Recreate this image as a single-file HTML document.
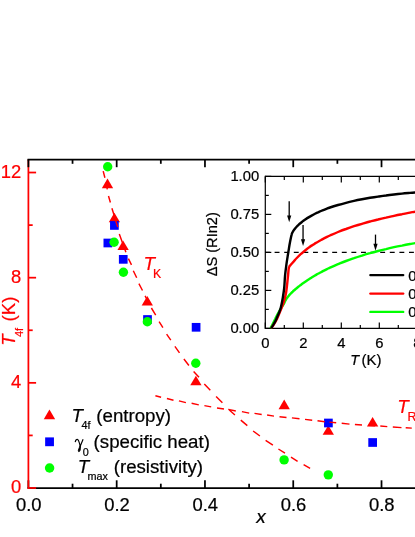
<!DOCTYPE html>
<html><head><meta charset="utf-8"><title>chart</title>
<style>html,body{margin:0;padding:0;background:#fff;overflow:hidden;}svg{display:block;will-change:transform;}text{font-family:"Liberation Sans",sans-serif;stroke:#000;stroke-width:.22px;stroke-linejoin:round;}g[fill="#ff0000"] text,text[fill="#ff0000"]{stroke:#ff0000;}</style>
</head><body>
<svg width="415" height="537" viewBox="0 0 415 537">
<rect width="415" height="537" fill="#fff"/>
<g stroke="#000" stroke-width="1.75" fill="none">
<line x1="27.525" y1="488.0" x2="415" y2="488.0"/>
<line x1="28.40" y1="488.0" x2="28.40" y2="480.3"/>
<line x1="72.54" y1="488.0" x2="72.54" y2="483.7"/>
<line x1="116.68" y1="488.0" x2="116.68" y2="480.3"/>
<line x1="160.82" y1="488.0" x2="160.82" y2="483.7"/>
<line x1="204.96" y1="488.0" x2="204.96" y2="480.3"/>
<line x1="249.10" y1="488.0" x2="249.10" y2="483.7"/>
<line x1="293.24" y1="488.0" x2="293.24" y2="480.3"/>
<line x1="337.38" y1="488.0" x2="337.38" y2="483.7"/>
<line x1="381.52" y1="488.0" x2="381.52" y2="480.3"/>
</g>
<g stroke="#ff0000" stroke-width="1.75" fill="none">
<line x1="28.4" y1="159.5" x2="28.4" y2="488.875"/>
<line x1="28.4" y1="488.00" x2="36.1" y2="488.00"/>
<line x1="28.4" y1="435.42" x2="32.699999999999996" y2="435.42"/>
<line x1="28.4" y1="382.84" x2="36.1" y2="382.84"/>
<line x1="28.4" y1="330.26" x2="32.699999999999996" y2="330.26"/>
<line x1="28.4" y1="277.68" x2="36.1" y2="277.68"/>
<line x1="28.4" y1="225.10" x2="32.699999999999996" y2="225.10"/>
<line x1="28.4" y1="172.52" x2="36.1" y2="172.52"/>
</g>
<g stroke="#000" stroke-width="1.75" fill="none">
<line x1="27.525" y1="159.5" x2="415" y2="159.5"/>
<line x1="28.40" y1="159.5" x2="28.40" y2="167.2"/>
<line x1="72.54" y1="159.5" x2="72.54" y2="163.8"/>
<line x1="116.68" y1="159.5" x2="116.68" y2="167.2"/>
<line x1="160.82" y1="159.5" x2="160.82" y2="163.8"/>
<line x1="204.96" y1="159.5" x2="204.96" y2="167.2"/>
<line x1="249.10" y1="159.5" x2="249.10" y2="163.8"/>
<line x1="293.24" y1="159.5" x2="293.24" y2="167.2"/>
<line x1="337.38" y1="159.5" x2="337.38" y2="163.8"/>
<line x1="381.52" y1="159.5" x2="381.52" y2="167.2"/>
</g>
<g font-size="18.4" fill="#ff0000" text-anchor="end">
<text x="21.2" y="493.20">0</text>
<text x="21.2" y="388.04">4</text>
<text x="21.2" y="282.88">8</text>
<text x="21.2" y="177.72">12</text>
</g>
<g font-size="18.4" fill="#000" text-anchor="middle">
<text x="28.70" y="511.1">0.0</text>
<text x="116.98" y="511.1">0.2</text>
<text x="205.26" y="511.1">0.4</text>
<text x="293.54" y="511.1">0.6</text>
<text x="381.82" y="511.1">0.8</text>
<text x="261" y="523.3" font-style="italic" font-size="19">x</text>
</g>
<g transform="translate(14.9,345.7) rotate(-90)" fill="#ff0000" font-size="18.7"><text x="0" y="0" font-style="italic">T</text><text x="8.8" y="8.4" font-size="10.8">4f</text><text x="24.2" y="0">(K)</text></g>
<polygon points="107.50,178.60 101.85,188.20 113.15,188.20" fill="#ff0000"/>
<polygon points="114.40,212.70 108.75,222.30 120.05,222.30" fill="#ff0000"/>
<polygon points="123.10,240.40 117.45,250.00 128.75,250.00" fill="#ff0000"/>
<polygon points="147.30,295.90 141.65,305.50 152.95,305.50" fill="#ff0000"/>
<polygon points="195.90,375.70 190.25,385.30 201.55,385.30" fill="#ff0000"/>
<polygon points="284.20,399.60 278.55,409.20 289.85,409.20" fill="#ff0000"/>
<polygon points="328.30,425.20 322.65,434.80 333.95,434.80" fill="#ff0000"/>
<polygon points="372.60,417.00 366.95,426.60 378.25,426.60" fill="#ff0000"/>
<rect x="110.05" y="221.10" width="8.7" height="8.7" fill="#0000ff"/>
<rect x="103.50" y="238.65" width="8.7" height="8.7" fill="#0000ff"/>
<rect x="118.90" y="255.00" width="8.7" height="8.7" fill="#0000ff"/>
<rect x="143.15" y="315.15" width="8.7" height="8.7" fill="#0000ff"/>
<rect x="191.75" y="322.95" width="8.7" height="8.7" fill="#0000ff"/>
<rect x="324.05" y="418.65" width="8.7" height="8.7" fill="#0000ff"/>
<rect x="368.30" y="438.15" width="8.7" height="8.7" fill="#0000ff"/>
<circle cx="107.70" cy="166.70" r="4.7" fill="#00ff00"/>
<circle cx="114.10" cy="242.20" r="4.7" fill="#00ff00"/>
<circle cx="123.40" cy="272.30" r="4.7" fill="#00ff00"/>
<circle cx="147.35" cy="321.70" r="4.7" fill="#00ff00"/>
<circle cx="195.80" cy="363.30" r="4.7" fill="#00ff00"/>
<circle cx="284.10" cy="459.90" r="4.7" fill="#00ff00"/>
<circle cx="328.30" cy="474.85" r="4.7" fill="#00ff00"/>
<path d="M103.2,171.1L104.9,177.8 M106.0,182.5L107.3,189.4 M108.5,196L110.4,202.5 M111.9,208.3L114.2,215.5 M115.7,221.0L117.8,227.1 M119.3,233.9L125.9,252.3 M128.4,258.6L131.5,264.9 M133.3,270.7L136.7,277.7 M138.9,283.7L142.5,290.5 M145.1,295.8L148.5,302.5 M151.4,308L155.7,315.1 M159.1,321.6L162.9,327.6 M166.6,334.1L170.8,340.1 M174.9,346.4L179.5,352.8 M183.9,359L188.9,365.5 M193.6,371.4L199.0,377.2 M204.3,384L210.3,390.3 M216.1,396.5L222.4,402.8 M228.5,409.2L234.9,415 M240.8,420.1L247.3,425.6 M253.1,431L259.9,436 M265.6,440.4L272.9,445.1 M278.4,449L285.0,453.1 M291.0,457.1L297.6,461.3 M303.6,464.6L310.1,468.3 M155.4,395.8L161.1,397.3 M166.9,398.5L173.5,400.2 M178.9,400.9L185.9,402.6 M191.6,403.3L198.8,404.9 M204.4,405.6L211.2,406.9 M217,408L224,409 M228.3,409.4L235.8,411 M241.9,411.6L249.2,413.1 M254.5,413.4L261.7,414.5 M267.1,415L274,416.1 M279.5,416.7L286.5,417.5 M291.9,417.9L299.5,418.8 M305,419.4L312.2,420.2 M317.5,420.8L324.8,421.7 M329.5,422.1L336.2,422.8 M341.7,423.3L349.5,424.1 M354.9,424.5L362,425 M368,425.4L375,425.8 M380.3,426L387.3,426.6 M392.8,427L401.5,427.6 M405.7,427.8L411.8,428.1" stroke="#ff0000" stroke-width="1.45" fill="none"/>
<text x="143.4" y="270.4" font-size="18.8" fill="#ff0000" font-style="italic">T</text>
<text x="152.9" y="277.6" font-size="12.4" fill="#ff0000">K</text>
<text x="397.3" y="412.9" font-size="18.8" fill="#ff0000" font-style="italic">T</text>
<text x="407.4" y="420.5" font-size="12.4" fill="#ff0000">RKKY</text>
<polygon points="49.45,409.45 43.75,419.35 55.15,419.35" fill="#ff0000"/>
<rect x="45.15" y="437.40" width="8.8" height="8.8" fill="#0000ff"/>
<circle cx="49.60" cy="468.00" r="4.75" fill="#00ff00"/>
<g font-size="18.7" fill="#000">
<text x="71.6" y="421.5" font-style="italic">T</text>
<text x="81.6" y="429" font-size="10.8">4f</text>
<text x="96.3" y="421.5">(entropy)</text>
<path d="M75.2,442.1 C75.6,440 76.4,439.3 77.3,439.3 C78.7,439.3 79.2,441.5 80.2,446.3 L83.1,439.2" stroke="#000" stroke-width="1.15" fill="none"/>
<path d="M80.2,445.6 C79.2,448 78.2,449.8 78.3,450.9 C78.4,452 79.5,452 80,450.6 C80.5,449.2 80.6,447.3 80.3,445.6 Z" stroke="#000" stroke-width="0.9" fill="#000"/>
<text x="82.8" y="455.7" font-size="10.8">0</text>
<text x="93.6" y="447.5">(specific heat)</text>
<text x="77.8" y="472.6" font-style="italic">T</text>
<text x="87.6" y="480.1" font-size="10.8">max</text>
<text x="113.7" y="472.6">(resistivity)</text>
</g>
<g stroke="#000" stroke-width="1.2" fill="none">
<line x1="265.3" y1="175.79999999999998" x2="265.3" y2="329.0"/>
<line x1="265.3" y1="176.39999999999998" x2="415" y2="176.39999999999998"/>
<line x1="265.3" y1="328.4" x2="415" y2="328.4"/>
<line x1="265.30" y1="176.39999999999998" x2="265.30" y2="182.39999999999998"/>
<line x1="265.30" y1="328.4" x2="265.30" y2="322.4"/>
<line x1="284.30" y1="176.39999999999998" x2="284.30" y2="179.89999999999998"/>
<line x1="284.30" y1="328.4" x2="284.30" y2="324.9"/>
<line x1="303.30" y1="176.39999999999998" x2="303.30" y2="182.39999999999998"/>
<line x1="303.30" y1="328.4" x2="303.30" y2="322.4"/>
<line x1="322.30" y1="176.39999999999998" x2="322.30" y2="179.89999999999998"/>
<line x1="322.30" y1="328.4" x2="322.30" y2="324.9"/>
<line x1="341.30" y1="176.39999999999998" x2="341.30" y2="182.39999999999998"/>
<line x1="341.30" y1="328.4" x2="341.30" y2="322.4"/>
<line x1="360.30" y1="176.39999999999998" x2="360.30" y2="179.89999999999998"/>
<line x1="360.30" y1="328.4" x2="360.30" y2="324.9"/>
<line x1="379.30" y1="176.39999999999998" x2="379.30" y2="182.39999999999998"/>
<line x1="379.30" y1="328.4" x2="379.30" y2="322.4"/>
<line x1="398.30" y1="176.39999999999998" x2="398.30" y2="179.89999999999998"/>
<line x1="398.30" y1="328.4" x2="398.30" y2="324.9"/>
<line x1="417.30" y1="176.39999999999998" x2="417.30" y2="182.39999999999998"/>
<line x1="417.30" y1="328.4" x2="417.30" y2="322.4"/>
<line x1="265.3" y1="328.40" x2="271.3" y2="328.40"/>
<line x1="265.3" y1="309.40" x2="268.8" y2="309.40"/>
<line x1="265.3" y1="290.40" x2="271.3" y2="290.40"/>
<line x1="265.3" y1="271.40" x2="268.8" y2="271.40"/>
<line x1="265.3" y1="252.40" x2="271.3" y2="252.40"/>
<line x1="265.3" y1="233.40" x2="268.8" y2="233.40"/>
<line x1="265.3" y1="214.40" x2="271.3" y2="214.40"/>
<line x1="265.3" y1="195.40" x2="268.8" y2="195.40"/>
<line x1="265.3" y1="176.40" x2="271.3" y2="176.40"/>
<line x1="265.0" y1="252.40" x2="415" y2="252.40" stroke-width="1.2" stroke-dasharray="4.9 4.7"/>
</g>
<g font-size="14.8" fill="#000" text-anchor="end">
<text x="259.2" y="333.40">0.00</text>
<text x="259.2" y="295.40">0.25</text>
<text x="259.2" y="257.40">0.50</text>
<text x="259.2" y="219.40">0.75</text>
<text x="259.2" y="181.40">1.00</text>
</g>
<g font-size="14.8" fill="#000" text-anchor="middle">
<text x="265.30" y="347.6">0</text>
<text x="303.30" y="347.6">2</text>
<text x="341.30" y="347.6">4</text>
<text x="379.30" y="347.6">6</text>
<text x="417.30" y="347.6">8</text>
</g>
<text x="350.3" y="365.1" font-size="14.5" font-style="italic">T</text>
<text x="361.4" y="365.1" font-size="15">(K)</text>
<g transform="translate(217.0,276.3) rotate(-90)" font-size="14.6"><text>&#916;S (RIn2)</text></g>
<path d="M270.4,328.2 C270.8,327.5 271.9,325.6 272.7,324.0 C273.5,322.4 274.2,320.8 275.4,318.5 C276.5,316.2 278.2,312.9 279.6,310.5 C281.0,308.1 282.8,305.8 283.7,304.2 C284.6,302.6 284.7,301.8 285.2,300.9 C285.7,299.9 286.2,299.2 286.7,298.4 C287.2,297.7 287.7,297.1 288.2,296.4 C288.7,295.8 289.2,295.2 289.7,294.7 C290.2,294.1 290.7,293.6 291.2,293.1 C291.7,292.6 292.2,292.1 292.7,291.7 C293.2,291.2 293.7,290.7 294.2,290.3 C294.7,289.8 295.2,289.4 295.7,289.0 C296.2,288.5 296.7,288.1 297.2,287.7 C297.7,287.3 298.2,286.9 298.7,286.5 C299.2,286.2 299.3,286.1 300.0,285.5 C300.7,285.0 302.0,284.0 303.0,283.3 C304.0,282.6 305.0,281.9 306.0,281.2 C307.0,280.5 308.0,279.8 309.0,279.2 C310.0,278.6 311.0,277.9 312.0,277.3 C313.0,276.7 314.0,276.1 315.0,275.5 C316.0,274.9 317.0,274.4 318.0,273.8 C319.0,273.3 320.0,272.7 321.0,272.2 C322.0,271.7 323.0,271.1 324.0,270.6 C325.0,270.1 326.0,269.6 327.0,269.1 C328.0,268.7 328.2,268.5 330.0,267.7 C331.8,266.9 335.3,265.3 338.0,264.2 C340.7,263.1 343.3,262.0 346.0,261.0 C348.7,260.0 351.3,259.1 354.0,258.2 C356.7,257.2 359.3,256.4 362.0,255.6 C364.7,254.7 367.3,253.9 370.0,253.2 C372.7,252.4 375.3,251.7 378.0,251.0 C380.7,250.3 383.3,249.7 386.0,249.1 C388.7,248.4 391.3,247.8 394.0,247.2 C396.7,246.6 399.3,246.1 402.0,245.6 C404.7,245.0 407.8,244.4 410.0,244.0 C412.2,243.6 414.6,243.2 415.5,243.0" stroke="#00ff00" stroke-width="2.4" fill="none" stroke-linejoin="round"/>
<path d="M271.2,328.2 C271.6,327.6 272.8,326.1 273.8,324.5 C274.8,322.9 276.0,321.0 277.2,318.5 C278.4,316.0 279.9,312.2 281.0,309.4 C282.1,306.6 283.0,304.6 283.9,301.7 C284.8,298.8 285.5,296.4 286.2,292.0 C286.9,287.6 287.7,278.8 288.1,275.0 C288.5,271.2 288.4,270.9 288.6,269.5 C288.8,268.1 288.9,267.3 289.3,266.6 C289.7,265.8 290.3,265.4 290.8,264.8 C291.3,264.2 291.8,263.6 292.3,263.0 C292.8,262.4 293.3,261.8 293.8,261.3 C294.3,260.7 294.8,260.1 295.3,259.6 C295.8,259.0 296.3,258.5 296.8,258.0 C297.3,257.5 297.8,257.0 298.3,256.5 C298.8,256.0 299.5,255.3 299.8,255.0 C300.1,254.7 299.5,255.3 300.0,254.8 C300.5,254.4 302.0,253.0 303.0,252.2 C304.0,251.3 305.0,250.5 306.0,249.7 C307.0,248.9 308.0,248.2 309.0,247.4 C310.0,246.7 311.0,246.0 312.0,245.4 C313.0,244.7 314.0,244.1 315.0,243.4 C316.0,242.8 317.0,242.2 318.0,241.7 C319.0,241.1 320.0,240.5 321.0,240.0 C322.0,239.4 323.0,238.9 324.0,238.4 C325.0,237.9 326.0,237.4 327.0,236.9 C328.0,236.4 328.2,236.3 330.0,235.5 C331.8,234.7 335.3,233.1 338.0,232.0 C340.7,230.9 343.3,229.9 346.0,229.0 C348.7,228.0 351.3,227.1 354.0,226.2 C356.7,225.4 359.3,224.6 362.0,223.8 C364.7,223.0 367.3,222.2 370.0,221.5 C372.7,220.8 375.3,220.1 378.0,219.5 C380.7,218.8 383.3,218.2 386.0,217.6 C388.7,216.9 391.3,216.4 394.0,215.8 C396.7,215.2 399.3,214.7 402.0,214.2 C404.7,213.6 407.8,213.1 410.0,212.6 C412.2,212.2 414.6,211.8 415.5,211.6" stroke="#ff0000" stroke-width="2.4" fill="none" stroke-linejoin="round"/>
<path d="M271.2,328.2 C271.6,327.6 272.6,326.1 273.5,324.5 C274.4,322.9 275.3,321.4 276.4,318.9 C277.5,316.4 279.2,312.8 280.3,309.3 C281.4,305.8 282.2,301.2 282.8,297.7 C283.4,294.1 283.8,291.8 284.2,288.0 C284.6,284.2 284.7,279.1 285.1,275.0 C285.5,270.9 286.1,267.0 286.6,263.2 C287.1,259.4 287.8,255.7 288.3,252.3 C288.9,248.9 289.3,245.7 289.9,242.7 C290.5,239.7 291.1,236.2 291.7,234.3 C292.2,232.4 292.7,232.1 293.2,231.2 C293.7,230.3 294.2,229.7 294.7,229.0 C295.2,228.3 295.7,227.8 296.2,227.2 C296.7,226.6 297.2,226.1 297.7,225.6 C298.2,225.1 298.8,224.6 299.2,224.2 C299.6,223.9 299.4,224.0 300.0,223.5 C300.6,223.0 302.0,221.9 303.0,221.1 C304.0,220.4 305.0,219.7 306.0,219.0 C307.0,218.3 308.0,217.7 309.0,217.1 C310.0,216.5 311.0,215.9 312.0,215.4 C313.0,214.8 314.0,214.3 315.0,213.8 C316.0,213.3 317.0,212.8 318.0,212.4 C319.0,211.9 320.0,211.5 321.0,211.0 C322.0,210.6 323.0,210.2 324.0,209.8 C325.0,209.4 326.0,209.0 327.0,208.6 C328.0,208.2 328.2,208.1 330.0,207.5 C331.8,206.9 335.3,205.8 338.0,205.0 C340.7,204.2 343.3,203.5 346.0,202.8 C348.7,202.1 351.3,201.5 354.0,200.9 C356.7,200.3 359.3,199.8 362.0,199.3 C364.7,198.8 367.3,198.3 370.0,197.8 C372.7,197.4 375.3,197.0 378.0,196.6 C380.7,196.2 383.3,195.8 386.0,195.5 C388.7,195.1 391.3,194.8 394.0,194.5 C396.7,194.2 399.3,193.9 402.0,193.6 C404.7,193.4 407.8,193.1 410.0,192.9 C412.2,192.7 414.6,192.5 415.5,192.4" stroke="#000" stroke-width="2.4" fill="none" stroke-linejoin="round"/>
<line x1="289.2" y1="201.2" x2="289.2" y2="217.5" stroke="#000" stroke-width="1.3"/><polygon points="287.09999999999997,215.4 291.3,215.4 289.2,222.3" fill="#000"/>
<line x1="303.05" y1="225.1" x2="303.05" y2="241.3" stroke="#000" stroke-width="1.3"/><polygon points="300.95,239.20000000000002 305.15000000000003,239.20000000000002 303.05,246.10000000000002" fill="#000"/>
<line x1="375.5" y1="234.6" x2="375.5" y2="245.9" stroke="#000" stroke-width="1.3"/><polygon points="373.4,243.8 377.6,243.8 375.5,250.70000000000002" fill="#000"/>
<line x1="370.4" y1="275.1" x2="403.2" y2="275.1" stroke="#000" stroke-width="2.4" stroke-linecap="round"/>
<text x="408.2" y="280.5" font-size="14.8">0.18</text>
<line x1="370.4" y1="293.6" x2="403.2" y2="293.6" stroke="#ff0000" stroke-width="2.4" stroke-linecap="round"/>
<text x="408.2" y="299.0" font-size="14.8">0.18</text>
<line x1="370.4" y1="311.9" x2="403.2" y2="311.9" stroke="#00ff00" stroke-width="2.4" stroke-linecap="round"/>
<text x="408.2" y="317.3" font-size="14.8">0.18</text>
</svg></body></html>
